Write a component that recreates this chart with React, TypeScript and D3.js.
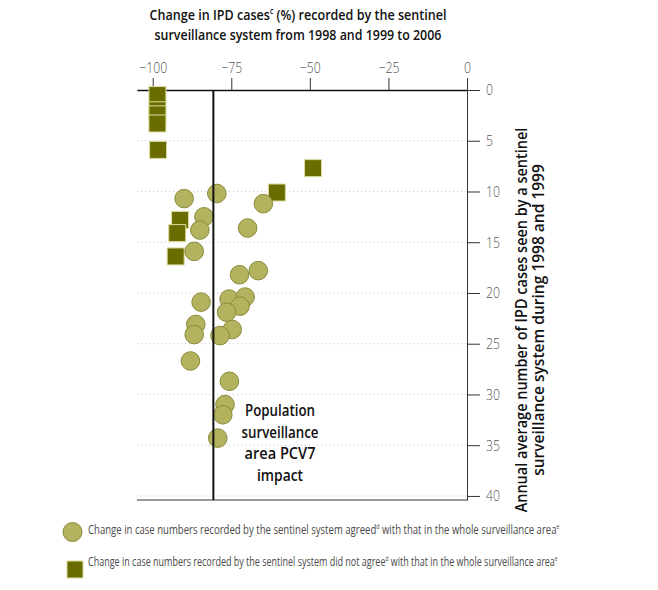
import React, { useRef, useEffect } from 'react';
import * as d3 from 'd3';

// circles: sentinel agreed with whole area
const agreedX = [-90, -79.6, -64.8, -83.7, -85, -69.8, -86.8, -72.4, -66.4, -84.6, -75.7, -70.6, -72.2, -76.5, -86.3, -86.8, -74.7, -78.6, -88, -75.6, -77, -77.7, -79.3];
const agreedY = [10.7, 10.2, 11.2, 12.5, 13.8, 13.6, 15.9, 18.2, 17.8, 20.9, 20.6, 20.4, 21.3, 21.9, 23.1, 24.1, 23.6, 24.2, 26.7, 28.7, 31.0, 32.0, 34.3];

// squares: sentinel did not agree
const notAgreedX = [-98.5, -98.5, -98.5, -98.5, -98.3, -49, -60.5, -91.3, -92.2, -92.7];
const notAgreedY = [0.5, 2.0, 2.4, 3.3, 5.9, 7.7, 10.1, 12.8, 14.1, 16.4];

const xTicks = [-100, -75, -50, -25, 0];
const yTicks = [0, 5, 10, 15, 20, 25, 30, 35, 40];
const impactLine = -80.7;

const yTitleLines = ['Annual average number of IPD cases seen by a sentinel', 'surveillance system during 1998 and 1999'];
const noteLines = ['Population', 'surveillance', 'area PCV7', 'impact'];

const BOLD = '"Open Sans", "Liberation Sans", sans-serif';
const LIGHT = '"Open Sans", "Liberation Sans", sans-serif';

// squeeze a text horizontally to a target width, around its anchor
const squeeze = (sel, target, anchor = 'middle') => {
    const node = sel.node();
    const bb = node.getBBox();
    const s = target / bb.width;
    const ax = anchor === 'middle' ? bb.x + bb.width / 2 : bb.x;
    sel.attr('transform', `translate(${ax},0) scale(${s},1) translate(${-ax},0)`);
};

const Chart = () => {
    const svgRef = useRef<SVGSVGElement>(null);

    const width = 658;
    const height = 590;
    const plot = { left: 137, right: 467, top: 90, bottom: 500 };

    useEffect(() => {
        document.body.style.margin = '0';
        const svg = d3.select(svgRef.current);
        svg.selectAll('*').remove();

        const x = d3.scaleLinear().domain([-105, 0]).range([plot.left, plot.right]);
        const y = d3.scaleLinear().domain([0, 40.4]).range([plot.top, plot.bottom]);

        // title
        const t1 = svg.append('text')
            .attr('x', 298).attr('y', 20)
            .attr('text-anchor', 'middle')
            .attr('font-family', BOLD).attr('font-weight', 600).attr('font-size', 15).attr('fill', '#111');
        t1.append('tspan').text('Change in IPD cases');
        t1.append('tspan').attr('font-size', 8).attr('dy', -6).text('c');
        t1.append('tspan').attr('dy', 6).text(' (%) recorded by the sentinel');
        squeeze(t1, 297);
        const t2 = svg.append('text')
            .attr('x', 298).attr('y', 40.5)
            .attr('text-anchor', 'middle')
            .attr('font-family', BOLD).attr('font-weight', 600).attr('font-size', 15).attr('fill', '#111')
            .text('surveillance system from 1998 and 1999 to 2006');
        squeeze(t2, 287);

        // gridlines
        svg.append('g')
            .selectAll('line')
            .data(yTicks.filter((d) => d > 0))
            .enter()
            .append('line')
            .attr('x1', plot.left)
            .attr('x2', plot.right)
            .attr('y1', (d) => y(d))
            .attr('y2', (d) => y(d))
            .attr('stroke', '#c4c4c4')
            .attr('stroke-dasharray', '1,3');

        // top axis
        const xAxis = svg.append('g')
            .attr('transform', `translate(0, ${plot.top})`)
            .call(d3.axisTop(x).tickValues(xTicks).tickSize(12).tickSizeOuter(0).tickPadding(5));
        xAxis.select('.domain').attr('stroke', '#111').attr('stroke-width', 1.5);
        xAxis.selectAll('.tick line').attr('stroke', '#333');
        xAxis.selectAll('.tick text')
            .attr('font-family', LIGHT)
            .attr('font-weight', 300)
            .attr('font-size', 15)
            .attr('fill', '#555');
        const refW = xAxis.select('.tick text').node().getBBox().width;
        const tickScale = 28 / refW;
        xAxis.selectAll('.tick text').attr('transform', `scale(${tickScale},1)`);

        // right axis
        const yAxis = svg.append('g')
            .attr('transform', `translate(${plot.right}, 0)`)
            .call(d3.axisRight(y).tickValues(yTicks).tickSize(13).tickSizeOuter(0).tickPadding(6));
        yAxis.select('.domain').attr('stroke', '#333');
        yAxis.selectAll('.tick line').attr('stroke', '#333');
        yAxis.selectAll('.tick text')
            .attr('font-family', LIGHT)
            .attr('font-weight', 300)
            .attr('font-size', 15)
            .attr('fill', '#555')
            .attr('transform', `translate(19,0) scale(${tickScale},1) translate(-19,0)`);

        // bottom border
        svg.append('line')
            .attr('x1', plot.left)
            .attr('x2', plot.right)
            .attr('y1', plot.bottom)
            .attr('y2', plot.bottom)
            .attr('stroke', '#333');

        // y title
        const yTitleW = [385, 312];
        yTitleLines.forEach((line, i) => {
            const g = svg.append('g').attr('transform', `translate(${527 + i * 17}, 320) rotate(-90)`);
            const t = g.append('text')
                .attr('text-anchor', 'middle')
                .attr('font-family', BOLD)
                .attr('font-weight', 600)
                .attr('font-size', 16)
                .attr('fill', '#111')
                .text(line);
            squeeze(t, yTitleW[i]);
        });

        // squares
        svg.append('g')
            .selectAll('rect')
            .data(notAgreedX)
            .enter()
            .append('rect')
            .attr('x', (d) => x(d) - 8.5)
            .attr('y', (d, i) => y(notAgreedY[i]) - 8.5)
            .attr('width', 17)
            .attr('height', 17)
            .attr('fill', '#6b6c00')
            .attr('stroke', '#dcdca0')
            .attr('stroke-width', 1);

        // circles
        svg.append('g')
            .selectAll('circle')
            .data(agreedX)
            .enter()
            .append('circle')
            .attr('cx', (d) => x(d))
            .attr('cy', (d, i) => y(agreedY[i]))
            .attr('r', 9.3)
            .attr('fill', '#b3b35f')
            .attr('stroke', '#8a8a3a')
            .attr('stroke-width', 1);

        // impact line
        svg.append('line')
            .attr('x1', x(impactLine))
            .attr('x2', x(impactLine))
            .attr('y1', plot.top)
            .attr('y2', plot.bottom)
            .attr('stroke', '#111')
            .attr('stroke-width', 2);

        // annotation
        const noteW = [70, 77, 71, 46];
        noteLines.forEach((line, i) => {
            const t = svg.append('text')
                .attr('x', 280)
                .attr('y', 416 + i * 21.7)
                .attr('text-anchor', 'middle')
                .attr('font-family', BOLD)
                .attr('font-weight', 600)
                .attr('font-size', 16)
                .attr('fill', '#111')
                .text(line);
            squeeze(t, noteW[i]);
        });

        // legend
        const legend = svg.append('g').attr('font-family', LIGHT).attr('font-size', 13).attr('fill', '#4a4a4a');
        legend.append('circle')
            .attr('cx', 72.5).attr('cy', 532).attr('r', 9.5)
            .attr('fill', '#b3b35f').attr('stroke', '#8a8a3a');
        const l1 = legend.append('text').attr('x', 88).attr('y', 534);
        l1.append('tspan').text('Change in case numbers recorded by the sentinel system agreed');
        l1.append('tspan').attr('font-size', 7).attr('dy', -5).text('d');
        l1.append('tspan').attr('dy', 5).text(' with that in the whole surveillance area');
        l1.append('tspan').attr('font-size', 7).attr('dy', -5).text('e');
        squeeze(l1, 472, 'start');

        legend.append('rect')
            .attr('x', 67).attr('y', 561).attr('width', 16).attr('height', 17)
            .attr('fill', '#6b6c00').attr('stroke', '#dcdca0');
        const l2 = legend.append('text').attr('x', 88).attr('y', 566);
        l2.append('tspan').text('Change in case numbers recorded by the sentinel system did not agree');
        l2.append('tspan').attr('font-size', 7).attr('dy', -5).text('d');
        l2.append('tspan').attr('dy', 5).text(' with that in the whole surveillance area');
        l2.append('tspan').attr('font-size', 7).attr('dy', -5).text('e');
        squeeze(l2, 470, 'start');
    }, []);

    return (
        <div style={{ position: 'relative' }}>
            <svg ref={svgRef} width={width} height={height} style={{ display: 'block', background: '#fff' }}></svg>
        </div>
    );
};

export default function App() {
    return <Chart />;
}
